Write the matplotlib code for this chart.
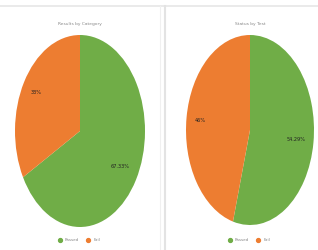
import matplotlib.pyplot as plt
import numpy as np
from matplotlib.lines import Line2D

# data
categories = ["Passed", "Fail"]
left_title = "Results by Category"
left_values = [67, 33]
left_labels = ["67.33%", "33%"]
right_title = "Status by Test"
right_values = [54.29, 45.71]
right_labels = ["54.29%", "46%"]

colors = ["#70AD47", "#ED7D31"]

W, H = 318, 250
fig = plt.figure(figsize=(W / 100, H / 100), dpi=100)
fig.patch.set_facecolor("white")


def px_axes(x0, y0, x1, y1):
    # pixel box (top-left origin) -> figure axes
    return fig.add_axes([x0 / W, 1 - y1 / H, (x1 - x0) / W, (y1 - y0) / H])


def draw_pie(box, values, labels, title, title_x, legend_x):
    ax = px_axes(*box)
    wedges, _ = ax.pie(values, colors=colors, startangle=90, counterclock=False,
                       wedgeprops=dict(linewidth=0))
    ax.set_aspect("auto")
    ax.set_xlim(-1, 1)
    ax.set_ylim(-1, 1)
    # labels inside slices
    for w, lab, r in zip(wedges, labels, [0.72, 0.78]):
        ang = np.deg2rad((w.theta1 + w.theta2) / 2)
        ax.text(r * np.cos(ang), r * np.sin(ang), lab, fontsize=3.6,
                color="#222222", ha="center", va="center")
    fig.text(title_x / W, 1 - 24 / H, title, fontsize=3.2, color="#888888",
             ha="center", va="center")
    handles = [Line2D([], [], marker="o", linestyle="", color=c, markersize=2.8)
               for c in colors]
    fig.legend(handles, categories, loc="center", bbox_to_anchor=(legend_x / W, 1 - 240 / H),
               ncol=2, frameon=False, fontsize=3, handletextpad=0.2, columnspacing=1.2,
               labelcolor="#888888")


draw_pie((15, 35, 145, 227), left_values, left_labels, left_title, 80, 78)
draw_pie((186, 35, 314, 225), right_values, right_labels, right_title, 250, 248)

# panel borders
fig.add_artist(Line2D([0, 1], [1 - 6 / H, 1 - 6 / H], color="#e6e6e6", linewidth=1.2))
fig.add_artist(Line2D([165 / W, 165 / W], [0, 1 - 6 / H], color="#e3e3e3", linewidth=1.5))
fig.add_artist(Line2D([160 / W, 160 / W], [0, 1 - 6 / H], color="#f0f0f0", linewidth=0.8))

fig.savefig("out.png", dpi=100, facecolor="white")
